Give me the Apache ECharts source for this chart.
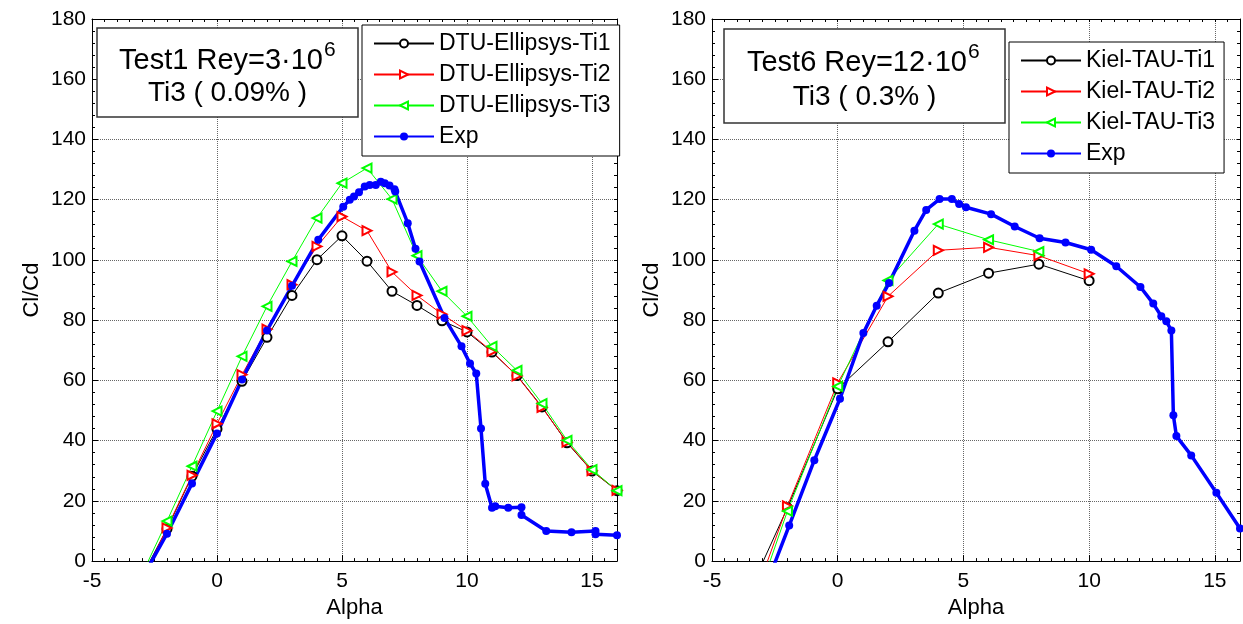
<!DOCTYPE html>
<html>
<head>
<meta charset="utf-8">
<script src="https://cdn.jsdelivr.net/npm/echarts@6/dist/echarts.min.js"></script>
<style>
  html, body { margin: 0; padding: 0; background: #fff; }
  #main { width: 1243px; height: 624px; }
</style>
</head>
<body>
<div id="main"></div>
<script>
// ---- left panel: Test1 ----
const alphaDtu = [-3, -2, -1, 0, 1, 2, 3, 4, 5, 6, 7, 8, 9, 10, 11, 12, 13, 14, 15, 16];
const dtuTi1 = [-5, 10.7, 28.2, 43.9, 59.7, 74.3, 88.2, 100.1, 108, 99.6, 89.6, 84.9, 79.8, 76.1, 69.4, 61.6, 51.2, 39.3, 29.9, 23.4];
const dtuTi2 = [-6, 11, 28.5, 45.6, 61.9, 77, 91.8, 104.5, 114.4, 109.7, 96, 88.2, 82, 76.5, 69.6, 61.5, 51, 39.5, 30, 23.5];
const dtuTi3 = [-4.4, 13.3, 31.5, 49.8, 68, 84.6, 99.5, 113.9, 125.5, 130.5, 120.2, 101.4, 89.6, 81.3, 71.3, 63.3, 52.3, 40.1, 30.4, 23.4];
const alphaExp1 = [-3, -2, -1, 0, 1, 2, 3, 4.05, 5.05, 5.31, 5.48, 5.68, 5.91, 6.11, 6.35, 6.55, 6.71, 6.9, 7.1, 7.13, 7.63, 7.94, 8.1, 9.1, 9.78, 10.12, 10.37, 10.56, 10.73, 11.0, 11.13, 11.65, 12.18, 12.18, 13.17, 14.18, 15.14, 15.14, 16];
const exp1 = [-5.8, 9.1, 25.8, 42.4, 60.3, 76.6, 91.4, 106.7, 117.7, 120, 121.1, 122.5, 124.4, 124.9, 124.9, 126, 125.5, 124.7, 123.5, 122.7, 112.2, 103.7, 99.5, 80.7, 71.3, 65.6, 62.3, 44, 25.7, 17.7, 18.2, 17.7, 17.9, 15.3, 10, 9.6, 10, 8.9, 8.6];

// ---- right panel: Test6 ----
const alphaKiel = [-3, -2, 0, 2, 4, 6, 8, 10];
const kielTi1 = [-0.7, 17.7, 57.2, 72.8, 89, 95.6, 98.6, 93.1];
const kielTi2 = [-4.8, 18.3, 59.2, 87.9, 103.2, 104.2, 101.4, 95.4];
const alphaKiel3 = [-3, -2, 0, 2, 4, 6, 8];
const kielTi3 = [-7.4, 16.6, 58, 93.2, 111.9, 106.7, 102.8];
const alphaExp6 = [-3, -1.93, -0.93, 0.09, 1.02, 1.55, 2.04, 3.05, 3.52, 4.05, 4.54, 4.83, 5.1, 6.1, 7.04, 8.03, 9.06, 10.08, 11.08, 12.04, 12.55, 12.87, 13.07, 13.27, 13.35, 13.47, 14.06, 15.06, 16];
const exp6 = [-11.4, 11.8, 33.5, 53.9, 75.7, 84.8, 92.3, 109.7, 116.6, 120.2, 120.2, 118.6, 117.5, 115.2, 111.1, 107.2, 105.8, 103.4, 97.9, 91, 85.5, 81.3, 79.6, 76.6, 48.4, 41.5, 35.1, 22.7, 10.8];

const FONT = 'Liberation Sans, Arial, sans-serif';

function pairs(xs, ys) {
  return xs.map(function (x, i) { return [x, ys[i]]; });
}

function mainX(grid) {
  return {
    type: 'value', gridIndex: grid, position: 'bottom', min: -5, max: 16, interval: 5,
    name: 'Alpha', nameLocation: 'middle', nameGap: 33,
    nameTextStyle: { color: '#000', fontSize: 22, fontFamily: FONT },
    axisLine: { show: true, onZero: false, lineStyle: { color: '#000', width: 1 } },
    axisTick: { show: true, inside: true, length: 6, lineStyle: { color: '#000' } },
    axisLabel: { color: '#000', fontSize: 21, fontFamily: FONT, margin: 10, showMaxLabel: false },
    splitLine: { show: true, lineStyle: { color: '#666', type: 'dotted', width: 1 } }
  };
}
function minorX(grid, pos, line) {
  return {
    type: 'value', gridIndex: grid, position: pos, min: -5, max: 16, interval: 0.5,
    axisLine: { show: line, onZero: false, lineStyle: { color: '#000', width: 1 } },
    axisTick: { show: true, inside: true, length: 3, lineStyle: { color: '#000' } },
    axisLabel: { show: false }, splitLine: { show: false }
  };
}
function mainY(grid) {
  return {
    type: 'value', gridIndex: grid, position: 'left', min: 0, max: 180, interval: 20,
    name: 'Cl/Cd', nameLocation: 'middle', nameGap: 49,
    nameTextStyle: { color: '#000', fontSize: 22, fontFamily: FONT },
    axisLine: { show: true, onZero: false, lineStyle: { color: '#000', width: 1 } },
    axisTick: { show: true, inside: true, length: 6, lineStyle: { color: '#000' } },
    axisLabel: { color: '#000', fontSize: 21, fontFamily: FONT, margin: 6 },
    splitLine: { show: true, lineStyle: { color: '#666', type: 'dotted', width: 1 } }
  };
}
function minorY(grid, pos, line) {
  return {
    type: 'value', gridIndex: grid, position: pos, min: 0, max: 180, interval: 4,
    axisLine: { show: line, onZero: false, lineStyle: { color: '#000', width: 1 } },
    axisTick: { show: true, inside: true, length: 3, lineStyle: { color: '#000' } },
    axisLabel: { show: false }, splitLine: { show: false }
  };
}

function cfd(name, xi, yi, data, color, symbol, rot) {
  return {
    name: name, type: 'line', xAxisIndex: xi, yAxisIndex: yi, data: data,
    symbol: symbol, symbolSize: 9, symbolRotate: rot, clip: true,
    lineStyle: { color: color, width: 1 },
    itemStyle: { color: color, borderColor: color, borderWidth: 1 }
  };
}
function expSeries(name, xi, yi, data) {
  return {
    name: name, type: 'line', xAxisIndex: xi, yAxisIndex: yi, data: data,
    symbol: 'circle', symbolSize: 8, clip: true,
    lineStyle: { color: '#0000ff', width: 3.5 },
    itemStyle: { color: '#0000ff' }
  };
}

function legend(names, left, top) {
  return {
    data: names, orient: 'vertical', left: left, top: top,
    backgroundColor: '#fff', borderColor: '#000', borderWidth: 1,
    padding: [7, 9, 8, 11], itemGap: 8, itemWidth: 60, itemHeight: 10,
    textStyle: { color: '#000', fontSize: 23, fontFamily: FONT }
  };
}

function titleBox(x, y, w, h, line1, sup, line2, x1end, cy1, cy2, supY) {
  return [
    { type: 'rect', z: 100, shape: { x: x, y: y, width: w, height: h },
      style: { fill: '#fff', stroke: '#333', lineWidth: 1.5 } },
    { type: 'text', z: 101, x: x1end, y: cy1,
      style: { text: line1, font: '29px ' + FONT, fill: '#000', align: 'right', verticalAlign: 'middle' } },
    { type: 'text', z: 101, x: x1end + 1, y: supY,
      style: { text: sup, font: '21px ' + FONT, fill: '#000', align: 'left', verticalAlign: 'middle' } },
    { type: 'text', z: 101, x: x + w / 2, y: cy2,
      style: { text: line2, font: '28px ' + FONT, fill: '#000', align: 'center', verticalAlign: 'middle' } }
  ];
}

const option = {
  animation: false,
  backgroundColor: '#fff',
  grid: [
    { left: 92, top: 19, width: 525, height: 543 },
    { left: 712, top: 19, width: 528, height: 543 }
  ],
  xAxis: [
    mainX(0), minorX(0, 'top', true), minorX(0, 'bottom', false),
    mainX(1), minorX(1, 'top', true), minorX(1, 'bottom', false)
  ],
  yAxis: [
    mainY(0), minorY(0, 'right', true), minorY(0, 'left', false),
    mainY(1), minorY(1, 'right', true), minorY(1, 'left', false)
  ],
  legend: [
    legend(['DTU-Ellipsys-Ti1', 'DTU-Ellipsys-Ti2', 'DTU-Ellipsys-Ti3', 'Exp'], 362, 25),
    legend(['Kiel-TAU-Ti1', 'Kiel-TAU-Ti2', 'Kiel-TAU-Ti3', 'Exp '], 1009, 42)
  ],
  graphic: [].concat(
    titleBox(97, 28, 261, 89, 'Test1 Rey=3\u00b710', '6', 'Ti3 ( 0.09% )', 323, 61, 93, 50),
    titleBox(724, 29, 281, 94, 'Test6 Rey=12\u00b710', '6', 'Ti3 ( 0.3% )', 967, 63, 97, 52)
  ),
  series: [
    cfd('DTU-Ellipsys-Ti1', 0, 0, pairs(alphaDtu, dtuTi1), '#000000', 'emptyCircle', 0),
    cfd('DTU-Ellipsys-Ti2', 0, 0, pairs(alphaDtu, dtuTi2), '#ff0000', 'emptyTriangle', -90),
    cfd('DTU-Ellipsys-Ti3', 0, 0, pairs(alphaDtu, dtuTi3), '#00ff00', 'emptyTriangle', 90),
    expSeries('Exp', 0, 0, pairs(alphaExp1, exp1)),
    cfd('Kiel-TAU-Ti1', 3, 3, pairs(alphaKiel, kielTi1), '#000000', 'emptyCircle', 0),
    cfd('Kiel-TAU-Ti2', 3, 3, pairs(alphaKiel, kielTi2), '#ff0000', 'emptyTriangle', -90),
    cfd('Kiel-TAU-Ti3', 3, 3, pairs(alphaKiel3, kielTi3), '#00ff00', 'emptyTriangle', 90),
    expSeries('Exp ', 3, 3, pairs(alphaExp6, exp6))
  ]
};

const chart = echarts.init(document.getElementById('main'));
chart.setOption(option);
</script>
</body>
</html>
